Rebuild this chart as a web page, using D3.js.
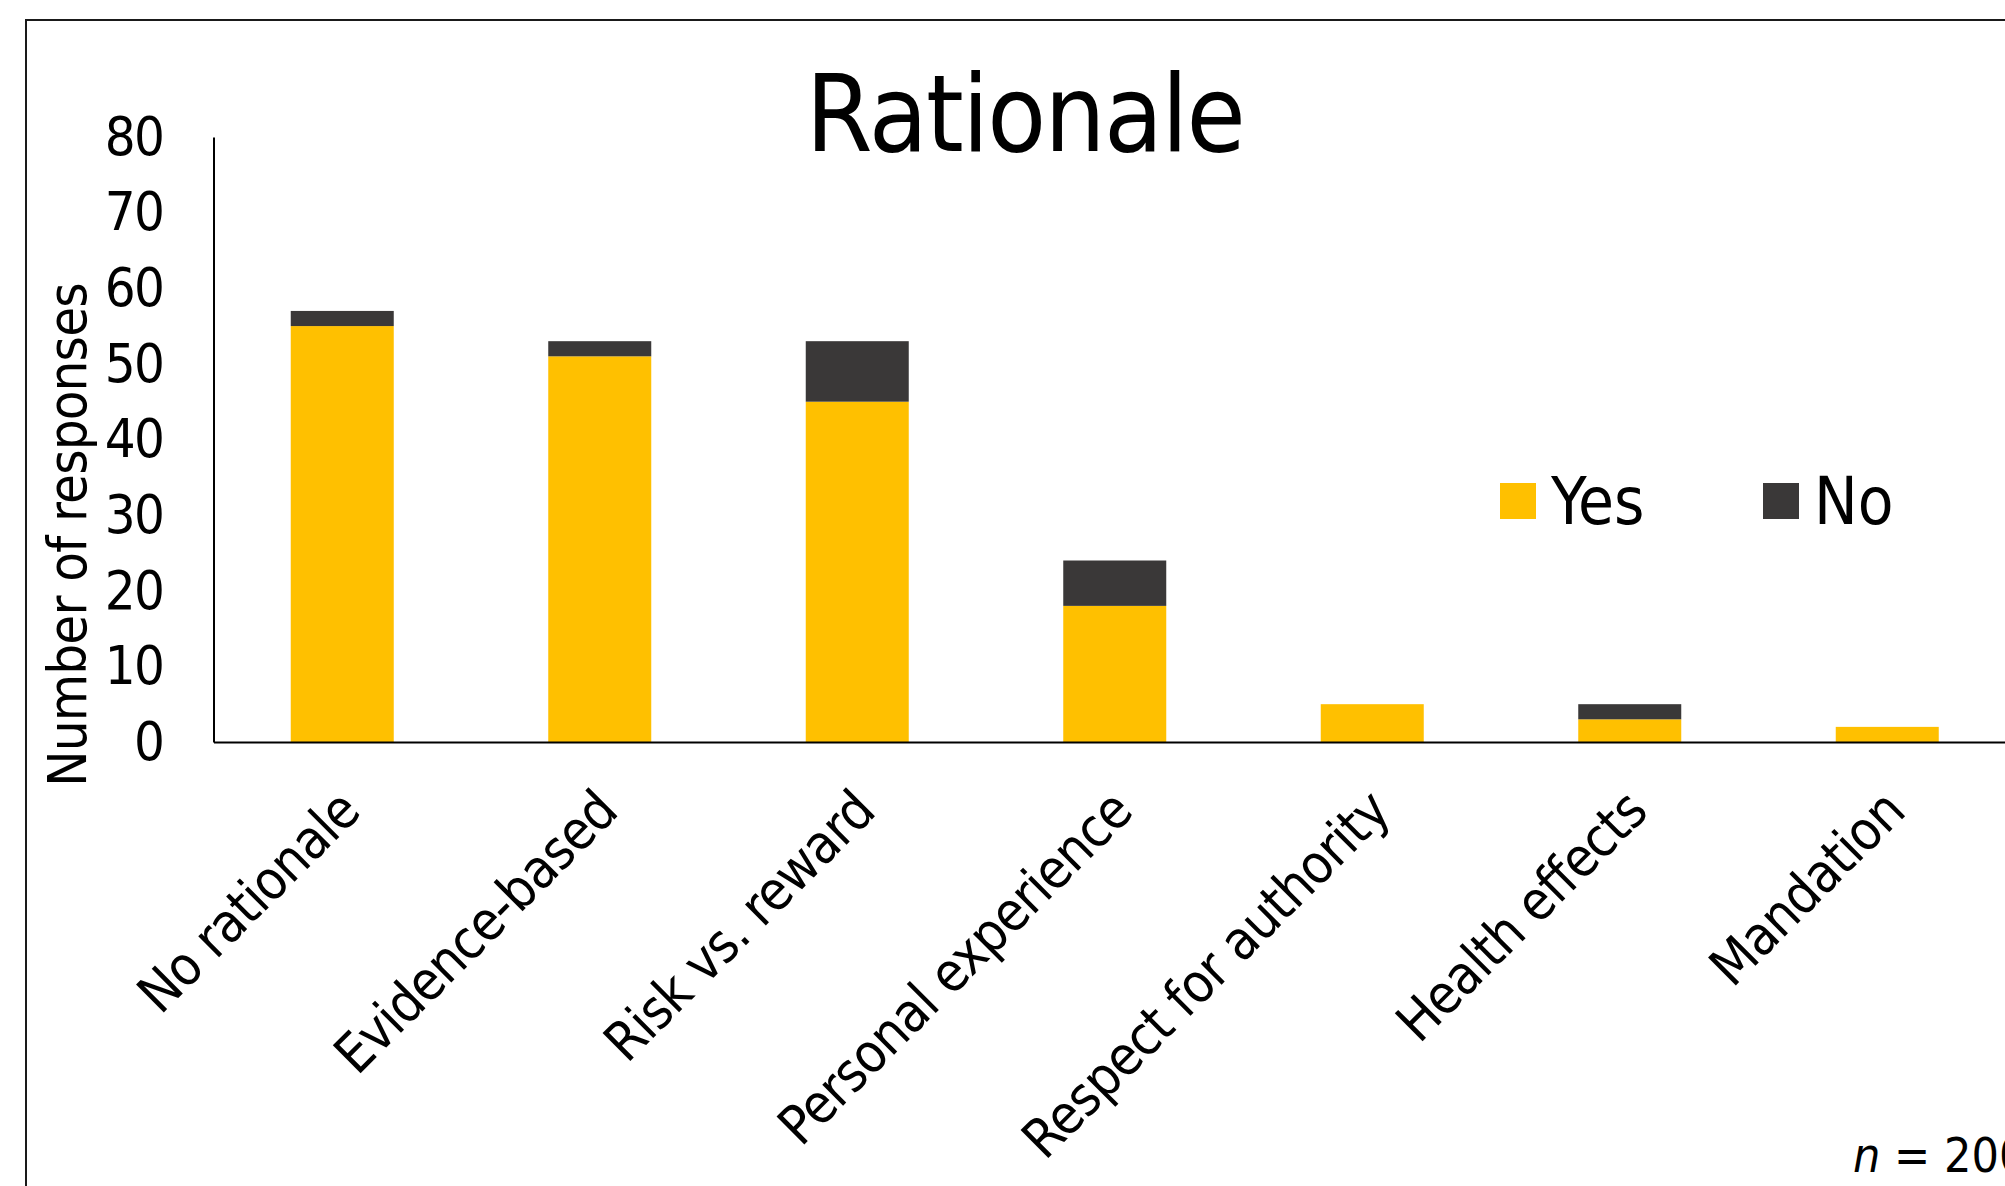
<!DOCTYPE html>
<html>
<head>
<meta charset="utf-8">
<script src="https://cdn.jsdelivr.net/npm/d3@7"></script>
<style>
  html, body { margin: 0; padding: 0; background: #fff; overflow: hidden; }
  svg { display: block; }
  text { font-family: "DejaVu Sans Condensed", "DejaVu Sans", sans-serif; fill: #000; }
</style>
</head>
<body>
<svg id="chart" width="2005" height="1186"></svg>
<script>
// Reasons given for each response, split by Yes / No answers
const categories = ["No rationale", "Evidence-based", "Risk vs. reward", "Personal experience",
                    "Respect for authority", "Health effects", "Mandation"];
const yesValues = [55, 51, 45, 18, 5, 3, 2];
const noValues  = [2, 2, 8, 6, 0, 2, 0];
const seriesNames = ["Yes", "No"];
const seriesColors = ["#FFC000", "#3A3838"];
const yTicks = [0, 10, 20, 30, 40, 50, 60, 70, 80];
const chartTitle = "Rationale";
const yAxisTitle = "Number of responses";
const sampleSize = 200;

const W = 2005, H = 1186;
const svg = d3.select("#chart");

// outer chart-area frame (runs off the right and bottom edges)
svg.append("rect")
  .attr("x", 26).attr("y", 20)
  .attr("width", W + 100).attr("height", H + 100)
  .attr("fill", "#fff")
  .attr("stroke", "#1a1a1a").attr("stroke-width", 2);

const plot = { left: 213.5, top: 137, bottom: 742, right: 2016 };

const x = d3.scaleBand()
  .domain(categories)
  .range([plot.left, plot.right])
  .paddingInner(0.6)
  .paddingOuter(0.3);

const y = d3.scaleLinear()
  .domain([0, 80])
  .range([plot.bottom, plot.top]);

const rows = categories.map((c, i) => ({ category: c, Yes: yesValues[i], No: noValues[i] }));
const stacked = d3.stack().keys(seriesNames)(rows);

// stacked bars
svg.append("g").selectAll("g")
  .data(stacked)
  .join("g")
  .attr("fill", (d, i) => seriesColors[i])
  .selectAll("rect")
  .data(d => d)
  .join("rect")
  .attr("x", d => x(d.data.category))
  .attr("width", x.bandwidth())
  .attr("y", d => y(d[1]))
  .attr("height", d => y(d[0]) - y(d[1]));

// y axis: line only, numbers at the left
const yAxis = d3.axisLeft(y).tickValues(yTicks).tickSize(0).tickPadding(50);
const gy = svg.append("g")
  .attr("transform", `translate(${plot.left},0)`)
  .call(yAxis);
gy.select(".domain").attr("stroke", "#000").attr("stroke-width", 2);
gy.selectAll(".tick text")
  .attr("font-size", 54)
  .attr("letter-spacing", -1.5)
  .attr("font-family", "DejaVu Sans Condensed, DejaVu Sans, sans-serif")
  .attr("fill", "#000");

// x axis: baseline with rotated category labels
const xAxis = d3.axisBottom(x).tickSize(0).tickPadding(0);
const gx = svg.append("g")
  .attr("transform", `translate(0,${plot.bottom})`)
  .call(xAxis);
gx.select(".domain").attr("stroke", "#000").attr("stroke-width", 2);
gx.selectAll(".tick text")
  .attr("font-size", 54)
  .attr("letter-spacing", -1)
  .attr("font-family", "DejaVu Sans Condensed, DejaVu Sans, sans-serif")
  .attr("fill", "#000")
  .attr("text-anchor", "end")
  .attr("dy", 0)
  .attr("y", 0)
  .attr("transform", "translate(20,72) rotate(-45)");

// chart title
svg.append("text")
  .attr("x", 1025).attr("y", 151)
  .attr("text-anchor", "middle")
  .attr("font-size", 107)
  .attr("letter-spacing", -1.6)
  .text(chartTitle);

// y axis title
svg.append("text")
  .attr("transform", "translate(86,535) rotate(-90)")
  .attr("text-anchor", "middle")
  .attr("font-size", 54)
  .attr("letter-spacing", -0.8)
  .text(yAxisTitle);

// legend
const legend = svg.append("g");
const legendX = [1500, 1763];
seriesNames.forEach((name, i) => {
  legend.append("rect")
    .attr("x", legendX[i]).attr("y", 483)
    .attr("width", 36).attr("height", 36)
    .attr("fill", seriesColors[i]);
  legend.append("text")
    .attr("x", legendX[i] + 51).attr("y", 524)
    .attr("font-size", 65)
    .text(name);
});

// sample size note
const note = svg.append("text")
  .attr("x", 1853).attr("y", 1172)
  .attr("font-size", 48);
note.append("tspan").attr("font-style", "italic").text("n");
note.append("tspan").text(" = " + sampleSize);
</script>
</body>
</html>
